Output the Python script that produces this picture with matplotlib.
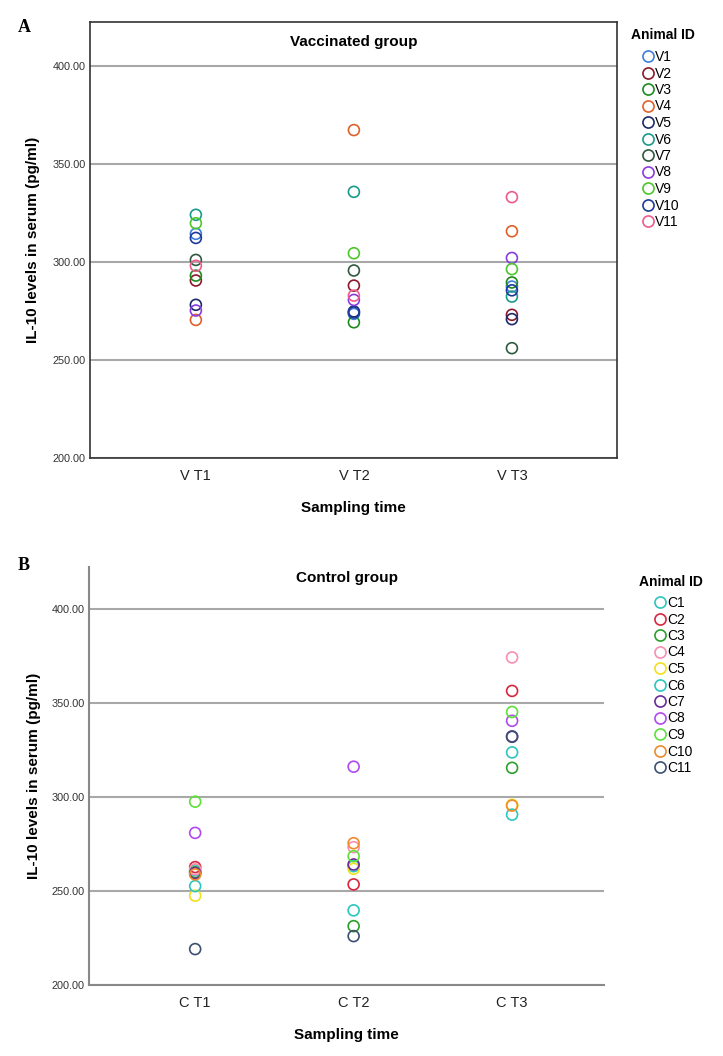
import matplotlib
matplotlib.use("Agg")
import matplotlib.pyplot as plt
from matplotlib.lines import Line2D

plt.rcParams["font.family"] = ["Liberation Sans", "DejaVu Sans"]

# sampling times
vacc_times = ["V T1", "V T2", "V T3"]
ctrl_times = ["C T1", "C T2", "C T3"]

vacc_ids = ["V1", "V2", "V3", "V4", "V5", "V6", "V7", "V8", "V9", "V10", "V11"]
ctrl_ids = ["C1", "C2", "C3", "C4", "C5", "C6", "C7", "C8", "C9", "C10", "C11"]

# IL-10 (pg/ml), one value per animal, in id order
vacc_t1 = [314.3, 290.5, 293.0, 270.4, 278.1, 324.0, 301.0, 275.2, 319.7, 312.2, 298.0]
vacc_t2 = [273.5, 287.9, 269.2, 367.2, 274.7, 335.7, 295.6, 280.6, 304.4, 274.2, 282.8]
vacc_t3 = [287.4, 273.0, 289.5, 315.6, 270.8, 282.3, 256.0, 302.0, 296.3, 285.5, 333.0]

ctrl_t1 = [261.0, 262.7, 260.0, 261.5, 247.5, 252.6, 259.5, 280.9, 297.5, 258.8, 219.1]
ctrl_t2 = [263.2, 253.5, 231.3, 273.3, 261.8, 239.7, 264.1, 316.1, 268.5, 275.4, 226.0]
ctrl_t3 = [323.7, 356.4, 315.5, 374.2, 295.8, 290.6, 332.2, 340.5, 345.2, 295.4, 332.0]

vacc_colors = ["#3d7fdb", "#8b1a2b", "#1f8a1f", "#e0602a", "#1c2a6b", "#1a9a8a",
               "#2f5a40", "#8a3ce0", "#4cc82a", "#1f3a9a", "#ef5a8f"]
ctrl_colors = ["#2ec4c0", "#d8263f", "#2aa02a", "#f78fb0", "#f2e01a", "#2cc6c0",
               "#6a2a9a", "#b04af0", "#5ee03a", "#f08a2a", "#3c5070"]

W, H = 723, 1056
fig = plt.figure(figsize=(W / 100, H / 100), dpi=100)


def px_axes(left, right, top, bottom):
    return fig.add_axes([left / W, 1 - bottom / H, (right - left) / W, (bottom - top) / H])


def panel(ax, times, series, ids, colors, title, title_y, xlim):
    for i in range(len(ids)):
        vals = [s[i] for s in series]
        ax.scatter(times, vals, s=62, facecolors="none", edgecolors=colors[i],
                   linewidths=1.2, zorder=3)
    ax.set_ylim(200, 422.3)
    ax.set_xlim(*xlim)
    ax.set_yticks([200, 250, 300, 350, 400])
    ax.set_yticklabels([f"{v:.2f}" for v in [200, 250, 300, 350, 400]])
    ax.yaxis.grid(True, color="#a8a8a8", lw=1.5)
    ax.set_axisbelow(True)
    ax.tick_params(axis="y", length=0, pad=3, labelsize=7.8, labelcolor="#333333")
    ax.tick_params(axis="x", length=0, pad=8, labelsize=10.5, labelcolor="#222222")
    ax.set_ylabel("IL-10 levels in serum (pg/ml)", fontsize=11, fontweight="bold")
    ax.yaxis.set_label_coords(-0.094, 0.5)
    ax.set_xlabel("Sampling time", fontsize=11, fontweight="bold", labelpad=13)
    ax.text(0.5, title_y, title, transform=ax.transAxes, ha="center", va="center",
            fontsize=11, fontweight="bold")


# panel A
axA = px_axes(90, 617, 22, 458)
panel(axA, vacc_times, [vacc_t1, vacc_t2, vacc_t3], vacc_ids, vacc_colors,
      "Vaccinated group", 0.954, (-0.67, 2.665))
for sp in axA.spines.values():
    sp.set_color("#333333")
    sp.set_linewidth(1.2)

# panel B
axB = px_axes(89, 604, 567, 985)
panel(axB, ctrl_times, [ctrl_t1, ctrl_t2, ctrl_t3], ctrl_ids, ctrl_colors,
      "Control group", 0.974, (-0.67, 2.58))
axB.spines["top"].set_visible(False)
axB.spines["right"].set_visible(False)
for s in ("left", "bottom"):
    axB.spines[s].set_color("#888888")
    axB.spines[s].set_linewidth(1.5)


def add_legend(ids, colors, title_xy, first_xy):
    fig.text(title_xy[0] / W, 1 - title_xy[1] / H, "Animal ID", fontsize=10,
             fontweight="bold", va="center", ha="left")
    handles = [Line2D([], [], ls="none", marker="o", ms=8, mfc="none", mec=c, mew=1.2)
               for c in colors]
    fig.legend(handles, ids, loc="upper left",
               bbox_to_anchor=(first_xy[0] / W, 1 - first_xy[1] / H), frameon=False,
               fontsize=10, handlelength=0.8, handletextpad=0.15, labelspacing=0.18,
               borderpad=0, borderaxespad=0)


add_legend(vacc_ids, vacc_colors, (631, 35), (642, 50))
add_legend(ctrl_ids, ctrl_colors, (639, 582), (654, 596))

fig.text(18 / W, 1 - 27 / H, "A", fontsize=13, fontweight="bold",
         family="Liberation Serif", va="center")
fig.text(18 / W, 1 - 565 / H, "B", fontsize=13, fontweight="bold",
         family="Liberation Serif", va="center")

fig.savefig("out.png", dpi=100)
